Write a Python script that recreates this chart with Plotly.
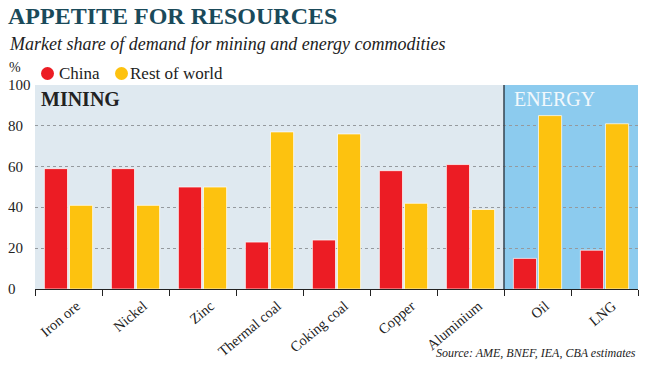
import plotly.graph_objects as go

categories = ["Iron ore", "Nickel", "Zinc", "Thermal coal", "Coking coal",
              "Copper", "Aluminium", "Oil", "LNG"]
china = [59, 59, 50, 23, 24, 58, 61, 15, 19]
rest_of_world = [41, 41, 50, 77, 76, 42, 39, 85, 81]
y_ticks = [0, 20, 40, 60, 80, 100]
mining_count = 7

RED = "#ec1c24"
YELLOW = "#fdc20f"
SERIF = "Liberation Serif, Times New Roman, serif"

fig = go.Figure()
fig.add_trace(go.Bar(x=categories, y=china, name="China", marker_color=RED,
                     marker_line=dict(color="rgba(255,255,255,0.7)", width=1),
                     showlegend=False))
fig.add_trace(go.Bar(x=categories, y=rest_of_world, name="Rest of world",
                     marker_color=YELLOW,
                     marker_line=dict(color="rgba(255,255,255,0.7)", width=1),
                     showlegend=False))

n = len(categories)
ML, MR, MT, MB = 35, 12, 85, 77
W, H = 650, 366
w_plot = W - ML - MR
h_plot = H - MT - MB


def px_x(px):
    return (px - ML) / w_plot


def px_y(py):
    return (H - MB - py) / h_plot


shapes = [
    dict(type="rect", xref="x", yref="y", x0=-0.5, x1=mining_count - 0.5,
         y0=0, y1=100, fillcolor="#dfe9f0", line_width=0, layer="below"),
    dict(type="rect", xref="x", yref="y", x0=mining_count - 0.5, x1=n - 0.5,
         y0=0, y1=100, fillcolor="#8ccbee", line_width=0, layer="below"),
    dict(type="line", xref="x", yref="y", x0=mining_count - 0.5, x1=mining_count - 0.5,
         y0=0, y1=100, line=dict(color="#34434f", width=1.5), layer="above"),
]
for cx, col in [(47.5, RED), (121.5, YELLOW)]:
    shapes.append(dict(type="circle", xref="paper", yref="paper",
                       xsizemode="pixel", ysizemode="pixel",
                       xanchor=px_x(cx), yanchor=px_y(73.5),
                       x0=-6.5, x1=6.5, y0=-6.5, y1=6.5,
                       fillcolor=col, line_width=0))

fig.update_layout(
    width=W, height=H,
    margin=dict(l=ML, r=MR, t=MT, b=MB, autoexpand=False),
    paper_bgcolor="white", plot_bgcolor="white",
    barmode="group", bargap=0.25, bargroupgap=0.08,
    font=dict(family=SERIF, color="#222222"),
    showlegend=False,
    shapes=shapes,
    xaxis=dict(
        type="category", tickson="boundaries", ticks="outside", ticklen=6,
        tickcolor="#222", showline=True, linecolor="#222", linewidth=1,
        tickangle=-40, tickfont=dict(size=14.5, family=SERIF, color="#222"),
        ticklabelshift=8, ticklabelstandoff=2,
        range=[-0.5, n - 0.5], showgrid=False, automargin=False,
    ),
    yaxis=dict(
        range=[0, 100], tickvals=y_ticks, showticklabels=False,
        showgrid=True, gridcolor="#959a9e", griddash="dot", gridwidth=1,
        zeroline=False, showline=False, fixedrange=True, automargin=False,
    ),
)

annotations = [
    dict(text="<b>APPETITE FOR RESOURCES</b>", x=px_x(6), y=px_y(1), xanchor="left",
         yanchor="top", font=dict(size=24, color="#1a4a5a", family=SERIF)),
    dict(text="<i>Market share of demand for mining and energy commodities</i>",
         x=px_x(7), y=px_y(32), xanchor="left", yanchor="top",
         font=dict(size=18, color="#222", family=SERIF)),
    dict(text="%", x=px_x(7), y=px_y(67), xanchor="left", yanchor="middle",
         font=dict(size=14, color="#222", family=SERIF)),
    dict(text="China", x=px_x(57), y=px_y(73), xanchor="left", yanchor="middle",
         font=dict(size=17, color="#222", family=SERIF)),
    dict(text="Rest of world", x=px_x(128), y=px_y(73), xanchor="left", yanchor="middle",
         font=dict(size=17, color="#222", family=SERIF)),
    dict(text="<b>MINING</b>", x=px_x(39), y=px_y(99), xanchor="left", yanchor="middle",
         font=dict(size=20, color="#222", family=SERIF)),
    dict(text="ENERGY", x=px_x(512), y=px_y(99), xanchor="left", yanchor="middle",
         font=dict(size=20, color="#f2f8fc", family=SERIF)),
    dict(text="<i>Source: AME, BNEF, IEA, CBA estimates</i>", x=px_x(638), y=px_y(353),
         xanchor="right", yanchor="middle",
         font=dict(size=12, color="#222", family=SERIF)),
]
for v in y_ticks:
    annotations.append(dict(text=str(v), xref="paper", yref="y", x=px_x(6), y=v,
                            xanchor="left", yanchor="middle",
                            font=dict(size=15, color="#222", family=SERIF)))
for a in annotations:
    a.setdefault("xref", "paper")
    a.setdefault("yref", "paper")
    a["showarrow"] = False
fig.update_layout(annotations=annotations)

fig.write_html("out.html", config={"displayModeBar": False},
               post_script="document.body.style.margin='0';")
